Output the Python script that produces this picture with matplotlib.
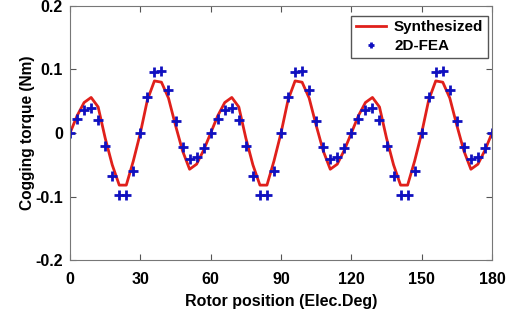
import numpy as np
import matplotlib.pyplot as plt

plt.rcParams["font.family"] = ["Liberation Sans", "DejaVu Sans"]
plt.rcParams["font.weight"] = "bold"

# rotor position (elec. deg), 3 deg step
position = np.arange(0, 181, 3)

# synthesized cogging torque (Nm)
synthesized = [
    0.000, 0.027, 0.048, 0.056, 0.041, -0.008, -0.050, -0.082, -0.082, -0.044,
    0.000, 0.052, 0.082, 0.080, 0.055, 0.012, -0.028, -0.057, -0.049, -0.027,
    0.000, 0.027, 0.048, 0.056, 0.041, -0.008, -0.050, -0.082, -0.082, -0.044,
    0.000, 0.052, 0.082, 0.080, 0.055, 0.012, -0.028, -0.057, -0.049, -0.027,
    0.000, 0.027, 0.048, 0.056, 0.041, -0.008, -0.050, -0.082, -0.082, -0.044,
    0.000, 0.052, 0.082, 0.080, 0.055, 0.012, -0.028, -0.057, -0.049, -0.027,
    0.000,
]

# 2D-FEA cogging torque (Nm)
fea = [
    0.000, 0.022, 0.037, 0.040, 0.020, -0.020, -0.068, -0.098, -0.097, -0.059,
    0.000, 0.057, 0.096, 0.098, 0.067, 0.019, -0.022, -0.041, -0.038, -0.023,
    0.000, 0.022, 0.037, 0.040, 0.020, -0.020, -0.068, -0.098, -0.097, -0.059,
    0.000, 0.057, 0.096, 0.098, 0.067, 0.019, -0.022, -0.041, -0.038, -0.023,
    0.000, 0.022, 0.037, 0.040, 0.020, -0.020, -0.068, -0.098, -0.097, -0.059,
    0.000, 0.057, 0.096, 0.098, 0.067, 0.019, -0.022, -0.041, -0.038, -0.023,
    0.000,
]

xticks = [0, 30, 60, 90, 120, 150, 180]
yticks = [-0.2, -0.1, 0, 0.1, 0.2]
yticklabels = ["-0.2", "-0.1", "0", "0.1", "0.2"]

fig = plt.figure(figsize=(5.16, 3.13), dpi=100)
ax = fig.add_axes([0.1357, 0.169, 0.8178, 0.812])

ax.plot(position, synthesized, color="#E0201B", lw=2, label="Synthesized")
ax.plot(position, fea, ls="none", marker="+", color="#1010C0",
        markersize=6.5, markeredgewidth=2, label="2D-FEA")

ax.set_xlim(0, 180)
ax.set_ylim(-0.2, 0.2)
ax.set_xticks(xticks)
ax.set_yticks(yticks)
ax.set_yticklabels(yticklabels)
ax.tick_params(direction="in", top=True, right=True, labelsize=11.5,
               length=4, color="#555555")
ax.tick_params(axis="x", pad=8.5)
ax.tick_params(axis="y", pad=5)
for lbl in ax.get_xticklabels() + ax.get_yticklabels():
    lbl.set_fontweight("bold")
for s in ax.spines.values():
    s.set_color("#777777")
    s.set_linewidth(0.8)

ax.set_xlabel("Rotor position (Elec.Deg)", fontsize=11.5, fontweight="bold", labelpad=5)
ax.set_ylabel("Cogging torque (Nm)", fontsize=11.2, fontweight="bold", labelpad=0)

leg = ax.legend(loc="upper right", bbox_to_anchor=(0.9905, 0.961),
                fancybox=False, framealpha=1,
                edgecolor="#555555", handlelength=2.0, borderaxespad=0,
                borderpad=0.3, labelspacing=0.3, handletextpad=0.5,
                prop={"weight": "bold", "size": 11})
leg.legend_handles[1].set_markersize(4.5)

fig.savefig("out.png", dpi=100)
